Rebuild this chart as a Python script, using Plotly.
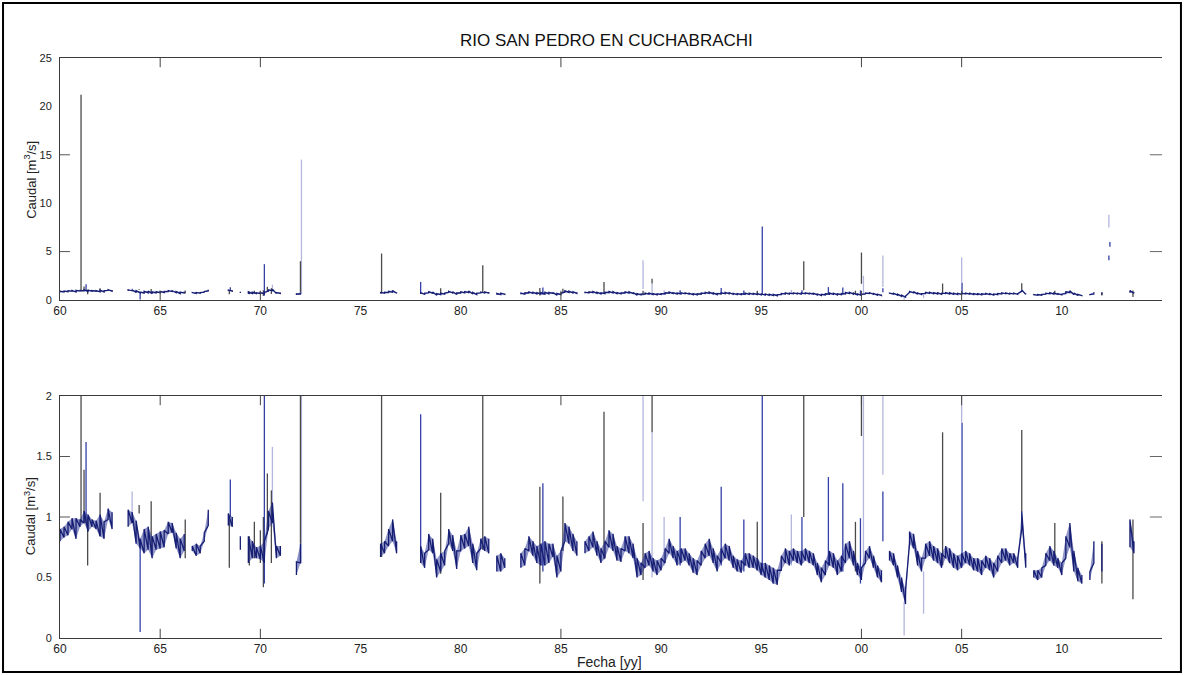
import plotly.graph_objects as go

# ---------------- data ----------------
# daily discharge envelope sampled every 0.2 yr starting at 1960.0 (None = no data)
GRID_START = 60.0
GRID_STEP = 0.2

flow_lo = (
    [0.80, 0.83, 0.85, 0.90, 0.82, 0.92, 0.95, 0.88, 0.92, 0.90, 0.84, 0.82, 0.98, 0.90]
    + [None] * 3
    + [0.92, 0.95, 0.78, 0.74, 0.70, 0.73, 0.66, 0.73, 0.74, 0.75, 0.86, 0.87, 0.74, 0.66, 0.72]
    + [None]
    + [0.72, 0.68, 0.70, 0.80, 0.93]
    + [None] * 4
    + [0.93, 0.92, None, 0.73, None, 0.62, 0.66, 0.66, 0.65, 0.62, 0.90, 0.95, 0.66, 0.68]
    + [None] * 3
    + [0.52, 0.62]
    + [None] * 19
    + [0.67, 0.70, 0.76, 0.80, 0.70]
    + [None] * 5
    + [0.62, 0.58, 0.73, 0.70, 0.50, 0.55, 0.60, 0.78, 0.72, 0.57, 0.72, 0.74, 0.76, 0.62, 0.56,
       0.74, 0.72, 0.70, None, 0.55, 0.55, 0.58]
    + [None] * 3
    # 83.0 - 85.8
    + [0.58, 0.60, 0.72, 0.68, 0.62, 0.60, 0.60, 0.62, 0.67, 0.50, 0.55, 0.80, 0.78, 0.72, 0.68]
    + [None]
    # 86.2 - 101.0
    + [0.70, 0.72, 0.75, 0.68, 0.62, 0.66, 0.75, 0.72, 0.64, 0.63, 0.72, 0.70, 0.66, 0.50, 0.52,
       0.58, 0.60, 0.55, 0.52, 0.56, 0.62, 0.70, 0.66, 0.60, 0.62, 0.64, 0.60, 0.54, 0.52, 0.60,
       0.66, 0.68, 0.62, 0.55, 0.62, 0.66, 0.64, 0.58, 0.55, 0.54, 0.60, 0.58, 0.58, 0.56, 0.52,
       0.50, 0.48, 0.45, 0.44, 0.56, 0.62, 0.60, 0.64, 0.62, 0.60, 0.64, 0.62, 0.60, 0.52, 0.46,
       0.52, 0.60, 0.58, 0.52, 0.55, 0.62, 0.66, 0.60, 0.52, 0.48, 0.62, 0.66, 0.58, 0.50, 0.46]
    + [None]
    # 101.4 - 108.2
    + [0.64, 0.60, 0.50, 0.38, 0.28, 0.78, 0.74, 0.60, 0.55, 0.66, 0.68, 0.64, 0.62, 0.58, 0.66,
       0.62, 0.58, 0.56, 0.58, 0.62, 0.60, 0.56, 0.55, 0.52, 0.58, 0.56, 0.50, 0.55, 0.62, 0.64,
       0.60, 0.62, 0.58, 0.90, 0.58]
    + [None]
    # 108.6 - 111.0
    + [0.50, 0.48, 0.50, 0.60, 0.64, 0.60, 0.58, 0.52, 0.66, 0.75, 0.55, 0.47, 0.45]
    + [None, 0.48, 0.62, None, 0.55]
    + [None] * 6
    + [0.75, 0.70]
)

flow_hi = (
    [0.90, 0.92, 0.96, 0.99, 0.99, 0.98, 1.05, 1.02, 0.98, 0.97, 1.02, 0.96, 1.07, 1.04]
    + [None] * 3
    + [1.06, 1.04, 0.97, 0.82, 0.90, 0.92, 0.84, 0.86, 0.88, 0.89, 0.96, 0.95, 0.87, 0.82, 0.86]
    + [None]
    + [0.76, 0.78, 0.76, 0.87, 1.06]
    + [None] * 4
    + [1.03, 1.00, None, 0.84, None, 0.84, 0.80, 0.75, 0.76, 0.80, 1.05, 1.12, 0.76, 0.76]
    + [None] * 3
    + [0.63, 0.78]
    + [None] * 19
    + [0.78, 0.80, 0.90, 0.98, 0.80]
    + [None] * 5
    + [0.76, 0.70, 0.86, 0.82, 0.65, 0.70, 0.72, 0.90, 0.85, 0.72, 0.85, 0.86, 0.92, 0.78, 0.70,
       0.82, 0.84, 0.82, None, 0.68, 0.70, 0.66]
    + [None] * 3
    + [0.70, 0.74, 0.84, 0.80, 0.76, 0.78, 0.80, 0.78, 0.78, 0.68, 0.72, 0.95, 0.92, 0.86, 0.80]
    + [None]
    + [0.80, 0.84, 0.88, 0.80, 0.74, 0.80, 0.89, 0.86, 0.76, 0.74, 0.84, 0.84, 0.78, 0.66, 0.62,
       0.70, 0.72, 0.66, 0.64, 0.66, 0.74, 0.82, 0.76, 0.72, 0.74, 0.74, 0.70, 0.66, 0.64, 0.72,
       0.78, 0.82, 0.74, 0.68, 0.74, 0.78, 0.76, 0.68, 0.65, 0.64, 0.70, 0.70, 0.68, 0.66, 0.62,
       0.62, 0.60, 0.58, 0.56, 0.68, 0.74, 0.72, 0.74, 0.72, 0.72, 0.74, 0.72, 0.70, 0.62, 0.58,
       0.64, 0.72, 0.70, 0.64, 0.68, 0.78, 0.80, 0.72, 0.62, 0.58, 0.72, 0.76, 0.68, 0.60, 0.56]
    + [None]
    + [0.72, 0.70, 0.60, 0.50, 0.40, 0.88, 0.86, 0.72, 0.66, 0.78, 0.80, 0.76, 0.74, 0.70, 0.76,
       0.74, 0.70, 0.68, 0.70, 0.72, 0.70, 0.66, 0.66, 0.64, 0.68, 0.66, 0.62, 0.68, 0.74, 0.74,
       0.70, 0.70, 0.66, 1.05, 0.70]
    + [None]
    + [0.56, 0.56, 0.58, 0.70, 0.76, 0.72, 0.66, 0.62, 0.84, 0.95, 0.72, 0.58, 0.52]
    + [None, 0.55, 0.80, None, 0.78]
    + [None] * 6
    + [0.98, 0.80]
)

# isolated daily peaks: year, lower end, upper end (three ink tones in the scan)
peak_dark_year = [61.05, 61.2, 61.38, 62.0, 63.95, 64.55, 66.25, 68.45, 69.45, 69.7, 70.0, 70.15,
                  70.35, 70.55, 72.0, 76.05, 79.0, 81.1, 83.95, 85.1, 87.15, 89.1, 89.55, 94.8,
                  97.12, 99.7, 100.0, 104.05, 108.0, 109.65, 112.0, 113.55]
peak_dark_lo = [0.95, 0.95, 0.60, 0.84, 1.03, 0.75, 0.66, 0.58, 0.60, 0.66, 0.62, 0.42,
                0.86, 0.62, 0.78, 0.67, 0.53, 0.73, 0.45, 0.72, 0.65, 0.48, 1.70, 0.56,
                1.00, 0.55, 1.67, 0.60, 1.05, 0.62, 0.45, 0.32]
peak_dark_hi = [21.2, 1.39, 1.00, 1.20, 1.10, 1.13, 0.98, 1.00, 0.84, 0.96, 0.89, 1.00,
                1.36, 1.22, 4.0, 4.8, 1.20, 3.6, 1.25, 1.17, 1.87, 0.95, 2.2, 0.96,
                4.0, 0.96, 4.9, 1.70, 1.72, 0.95, 0.80, 0.98]

peak_blue_year = [61.3, 64.0, 68.5, 70.2, 78.0, 84.1, 90.95, 93.0, 94.13, 95.05, 97.03, 98.35,
                  99.07, 99.95, 101.07, 105.02, 112.4, 112.35]
peak_blue_lo = [0.95, 0.05, 1.00, 0.45, 0.62, 0.55, 0.60, 0.60, 0.55, 0.55, 0.62, 0.60,
                0.55, 0.45, 0.80, 0.60, 5.5, 4.1]
peak_blue_hi = [1.62, 0.78, 1.31, 3.7, 1.85, 1.28, 1.00, 1.25, 0.98, 7.6, 1.00, 1.33,
                1.28, 0.99, 1.21, 1.78, 6.0, 4.6]

peak_light_year = [63.6, 70.6, 72.05, 89.1, 89.55, 90.15, 96.5, 100.1, 101.07, 102.13, 103.1,
                   105.0, 112.35]
peak_light_lo = [0.95, 0.95, 0.62, 1.13, 0.50, 0.60, 0.60, 0.60, 1.35, 0.02, 0.20, 1.78, 7.5]
peak_light_hi = [1.21, 1.58, 14.5, 4.1, 1.70, 1.00, 1.02, 2.5, 4.6, 0.30, 0.55, 4.4, 8.8]

x_tickvals = [60, 65, 70, 75, 80, 85, 90, 95, 100, 105, 110]
x_ticktext = ["60", "65", "70", "75", "80", "85", "90", "95", "00", "05", "10"]
x_marked_ticks = [65, 70, 85, 100, 105]
top_y_ticks = [0, 5, 10, 15, 20, 25]
top_marked_ticks = [5, 15]
bot_y_ticks = [0, 0.5, 1, 1.5, 2]
bot_y_text = ["0", "0.5", "1", "1.5", "2"]
bot_marked_ticks = [1, 1.5]

# ---------------- build traces ----------------
def band_runs(lo, hi):
    runs, cur = [], []
    for i, (a, b) in enumerate(zip(lo, hi)):
        t = GRID_START + GRID_STEP * i
        if a is None:
            if cur:
                runs.append(cur)
            cur = []
            continue
        cur.append((t, a, b))
    if cur:
        runs.append(cur)
    return runs


def zigzag(runs):
    xs, ys = [], []
    for r in runs:
        for t, a, b in r:
            xs += [t, t]
            ys += [a, b]
        xs.append(None)
        ys.append(None)
    return xs, ys


def polygon(runs):
    xs, ys = [], []
    for r in runs:
        xs += [t for t, _, _ in r] + [t for t, _, _ in reversed(r)] + [r[0][0]]
        ys += [b for _, _, b in r] + [a for _, a, _ in reversed(r)] + [r[0][2]]
        xs.append(None)
        ys.append(None)
    return xs, ys


def seg_path(years, lo, hi):
    xs, ys = [], []
    for t, a, b in zip(years, lo, hi):
        xs += [t, t, None]
        ys += [a, b, None]
    return xs, ys


runs = band_runs(flow_lo, flow_hi)
zx, zy = zigzag(runs)
px, py = polygon(runs)
FONT = "Liberation Sans, Arial, sans-serif"

fig = go.Figure()
for sfx in ["", "2"]:
    for (yrs, lo, hi, col, w) in [
        (peak_light_year, peak_light_lo, peak_light_hi, "#b3b7dd", 1.3),
        (peak_dark_year, peak_dark_lo, peak_dark_hi, "#4a4a4a", 1.3),
        (peak_blue_year, peak_blue_lo, peak_blue_hi, "#3340a6", 1.3),
    ]:
        sx, sy = seg_path(yrs, lo, hi)
        fig.add_trace(go.Scatter(x=sx, y=sy, mode="lines", line=dict(color=col, width=w),
                                 xaxis="x" + sfx, yaxis="y" + sfx, showlegend=False,
                                 hoverinfo="skip"))
    fig.add_trace(go.Scatter(x=px, y=py, mode="lines", fill="toself",
                             fillcolor="rgba(35,45,145,0.5)", line=dict(width=0),
                             xaxis="x" + sfx, yaxis="y" + sfx, showlegend=False,
                             hoverinfo="skip"))
    fig.add_trace(go.Scatter(x=zx, y=zy, mode="lines", line=dict(color="#161e74", width=1.3),
                             xaxis="x" + sfx, yaxis="y" + sfx, showlegend=False))

axis_common = dict(showgrid=False, zeroline=False, showline=True, linecolor="#3a3a3a",
                   linewidth=1)
x_font = dict(family=FONT, size=12, color="#222")
y_font = dict(family=FONT, size=11, color="#222")

TOP_DOM = [0.5828, 1.0]
BOT_DOM = [0.0, 0.4172]

fig.update_layout(
    width=1185, height=675,
    margin=dict(l=60, r=23, t=58, b=37),
    paper_bgcolor="white", plot_bgcolor="white",
    xaxis=dict(domain=[0, 1], anchor="y", range=[60, 115], tickvals=x_tickvals,
               ticktext=x_ticktext, ticks="", mirror=True, tickfont=x_font, **axis_common),
    yaxis=dict(domain=TOP_DOM, anchor="x", range=[0, 25], tickvals=top_y_ticks,
               ticks="", ticklabelstandoff=5, tickfont=y_font, **axis_common),
    xaxis2=dict(domain=[0, 1], anchor="y2", range=[60, 115], tickvals=x_tickvals,
                ticktext=x_ticktext, ticks="", mirror=True, tickfont=x_font, **axis_common),
    yaxis2=dict(domain=BOT_DOM, anchor="x2", range=[0, 2], tickvals=bot_y_ticks,
                ticktext=bot_y_text, ticks="", ticklabelstandoff=5, tickfont=y_font,
                **axis_common),
)

shapes = []
for xr, yr in [("x", "y domain"), ("x2", "y2 domain")]:
    for t in x_marked_ticks:
        shapes.append(dict(type="line", xref=xr, yref=yr, x0=t, x1=t, y0=0, y1=0.038,
                           line=dict(color="#444", width=1)))
        shapes.append(dict(type="line", xref=xr, yref=yr, x0=t, x1=t, y0=0.962, y1=1,
                           line=dict(color="#444", width=1)))
for xr, yr, vals in [("x domain", "y", top_marked_ticks), ("x2 domain", "y2", bot_marked_ticks)]:
    for v in vals:
        shapes.append(dict(type="line", xref=xr, yref=yr, x0=0, x1=0.009, y0=v, y1=v,
                           line=dict(color="#555", width=1)))
        shapes.append(dict(type="line", xref=xr, yref=yr, x0=0.989, x1=1.0, y0=v, y1=v,
                           line=dict(color="#666", width=1)))
# outer frame of the figure
shapes.append(dict(type="rect", xref="paper", yref="paper", x0=-0.0517, x1=1.0172,
                   y0=-0.0586, y1=1.0948, line=dict(color="black", width=2)))
fig.update_layout(shapes=shapes)

fig.update_layout(annotations=[
    dict(text="RIO SAN PEDRO EN CUCHABRACHI", xref="paper", yref="paper", x=0.496, y=1.031,
         xanchor="center", yanchor="middle", showarrow=False,
         font=dict(family=FONT, size=17, color="#111")),
    dict(text="Caudal [m<sup>3</sup>/s]", xref="paper", yref="paper", x=-0.0272, y=0.79,
         xanchor="center", yanchor="middle", textangle=-90, showarrow=False,
         font=dict(family=FONT, size=13, color="#222")),
    dict(text="Caudal [m<sup>3</sup>/s]", xref="paper", yref="paper", x=-0.0272, y=0.21,
         xanchor="center", yanchor="middle", textangle=-90, showarrow=False,
         font=dict(family=FONT, size=13, color="#222")),
    dict(text="Fecha [yy]", xref="paper", yref="paper", x=0.499, y=-0.041,
         xanchor="center", yanchor="middle", showarrow=False,
         font=dict(family=FONT, size=14, color="#222")),
])

fig.write_html("out.html", config={"displayModeBar": False},
               post_script="document.body.style.margin='0';")
